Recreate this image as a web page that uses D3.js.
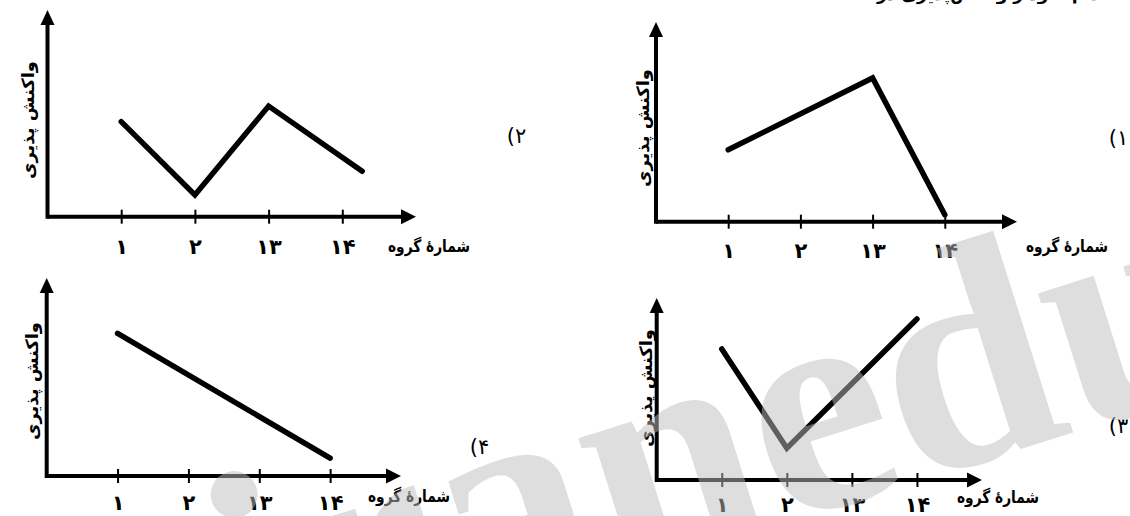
<!DOCTYPE html>
<html>
<head>
<meta charset="utf-8">
<script src="https://cdn.jsdelivr.net/npm/d3@7"></script>
<style>
html,body{margin:0;padding:0;background:#fff;overflow:hidden}
svg{display:block}
</style>
</head>
<body>
<svg id="chart" width="1130" height="516"></svg>
<script>
// ---------- data ----------
const categories = ["۱", "۲", "۱۳", "۱۴"];
const tickValues = [1, 2, 3, 4];
const xAxisTitle = "شمارهٔ گروه";
const yAxisTitle = "واکنش پذیری";
const optionNumbers = ["۱", "۲", "۳", "۴"];
const headerText = "کدام نمودار واکنش‌پذیری درست است؟";
const watermarkText = "iranedu";

// x = position along the group axis (1..4 = the four groups), y = relative reactivity (0..100)
const option1X = [1, 3, 4];
const option1Y = [36, 72, 3.5];
const option2X = [1, 2, 3, 4.27];
const option2Y = [46, 10.5, 53.5, 22];
const option3X = [1, 2, 4];
const option3Y = [72, 17.5, 88.5];
const option4X = [1, 4];
const option4Y = [72, 9];

// ---------- layout ----------
const panels = [
  { xs: option1X, ys: option1Y, num: optionNumbers[0], ox: 656, ex: 1017, oy: 221.7, ty: 22,
    optX: 1120, optY: 138, yTitleX: 643, yTitleY: 128, xTitleX: 1026, xTitleY: 246, tickLabelY: 251 },
  { xs: option2X, ys: option2Y, num: optionNumbers[1], ox: 47.5, ex: 416, oy: 216.7, ty: 10,
    optX: 518, optY: 136, yTitleX: 28, yTitleY: 120, xTitleX: 388, xTitleY: 246, tickLabelY: 247 },
  { xs: option3X, ys: option3Y, num: optionNumbers[2], ox: 656.7, ex: 982, oy: 480, ty: 298,
    optX: 1120, optY: 426, yTitleX: 646, yTitleY: 388, xTitleX: 957, xTitleY: 497, tickLabelY: 505 },
  { xs: option4X, ys: option4Y, num: optionNumbers[3], ox: 46.7, ex: 401, oy: 476, ty: 278,
    optX: 481, optY: 447, yTitleX: 32, yTitleY: 381, xTitleX: 368, xTitleY: 496, tickLabelY: 503 }
];

const FONT = "'DejaVu Sans', 'Noto Sans', sans-serif";
const svg = d3.select("#chart");

// header line (cut off at the top edge, as in the source page)
svg.append("text")
  .attr("x", 1110).attr("y", 0)
  .attr("text-anchor", "end")
  .attr("font-family", FONT).attr("font-weight", "bold").attr("font-size", 17)
  .attr("fill", "#000")
  .text(headerText);

panels.forEach(p => {
  const g = svg.append("g");
  const x = d3.scaleLinear().domain([0, 5]).range([p.ox, p.ex]);
  const y = d3.scaleLinear().domain([0, 100]).range([p.oy, p.ty]);

  // x axis with ticks
  const axis = g.append("g")
    .attr("transform", `translate(0,${p.oy})`)
    .call(d3.axisBottom(x).tickValues(tickValues)
      .tickFormat((d, i) => categories[i]).tickSizeOuter(0));
  axis.select(".domain").remove();
  axis.selectAll(".tick line")
    .attr("y1", -7).attr("y2", 7)
    .attr("stroke", "#000").attr("stroke-width", 2);
  axis.selectAll(".tick text")
    .attr("y", p.tickLabelY - p.oy).attr("dy", "0.35em")
    .attr("font-family", FONT).attr("font-weight", "bold").attr("font-size", 21)
    .attr("fill", "#000");

  // axis lines
  g.append("line")
    .attr("x1", x(0)).attr("x2", x(5) - 10)
    .attr("y1", y(0)).attr("y2", y(0))
    .attr("stroke", "#000").attr("stroke-width", 4);
  g.append("line")
    .attr("x1", x(0)).attr("x2", x(0))
    .attr("y1", y(0) + 2).attr("y2", y(100) + 10)
    .attr("stroke", "#000").attr("stroke-width", 4);

  // arrow heads
  g.append("path")
    .attr("d", `M${x(5)},${y(0)} L${x(5) - 15},${y(0) - 7.5} L${x(5) - 15},${y(0) + 7.5} Z`)
    .attr("fill", "#000");
  g.append("path")
    .attr("d", `M${x(0)},${y(100)} L${x(0) - 7},${y(100) + 15} L${x(0) + 7},${y(100) + 15} Z`)
    .attr("fill", "#000");

  // data line
  const pts = p.xs.map((v, i) => [v, p.ys[i]]);
  g.append("path")
    .datum(pts)
    .attr("d", d3.line().x(d => x(d[0])).y(d => y(d[1])))
    .attr("fill", "none").attr("stroke", "#000").attr("stroke-width", 5.5)
    .attr("stroke-linecap", "round").attr("stroke-linejoin", "miter");

  // titles
  g.append("text")
    .attr("transform", `translate(${p.yTitleX},${p.yTitleY}) rotate(-90)`)
    .attr("text-anchor", "middle").attr("dy", "0.35em")
    .attr("font-family", FONT).attr("font-weight", "bold").attr("font-size", 17)
    .attr("textLength", 118).attr("lengthAdjust", "spacingAndGlyphs")
    .attr("fill", "#000").text(yAxisTitle);
  g.append("text")
    .attr("x", p.xTitleX).attr("y", p.xTitleY).attr("dy", "0.35em")
    .attr("text-anchor", "start")
    .attr("font-family", FONT).attr("font-weight", "bold").attr("font-size", 17)
    .attr("textLength", 82).attr("lengthAdjust", "spacingAndGlyphs")
    .attr("fill", "#000").text(xAxisTitle);

  // option label "(n": paren on the left, number on the right
  g.append("text")
    .attr("x", p.optX - 3).attr("y", p.optY).attr("dy", "0.35em")
    .attr("text-anchor", "end")
    .attr("font-family", FONT).attr("font-size", 21)
    .attr("fill", "#000").text("(");
  g.append("text")
    .attr("x", p.optX - 3).attr("y", p.optY).attr("dy", "0.35em")
    .attr("text-anchor", "start")
    .attr("font-family", FONT).attr("font-size", 21)
    .attr("fill", "#000").text(p.num);
});

// watermark on top
svg.append("text")
  .attr("transform", "translate(250,692) rotate(-17.5)")
  .attr("font-family", "'Liberation Serif', serif").attr("font-weight", "bold")
  .attr("font-size", 312)
  .attr("fill", "rgb(190,190,190)").attr("fill-opacity", 0.5)
  .text(watermarkText);
</script>
</body>
</html>
